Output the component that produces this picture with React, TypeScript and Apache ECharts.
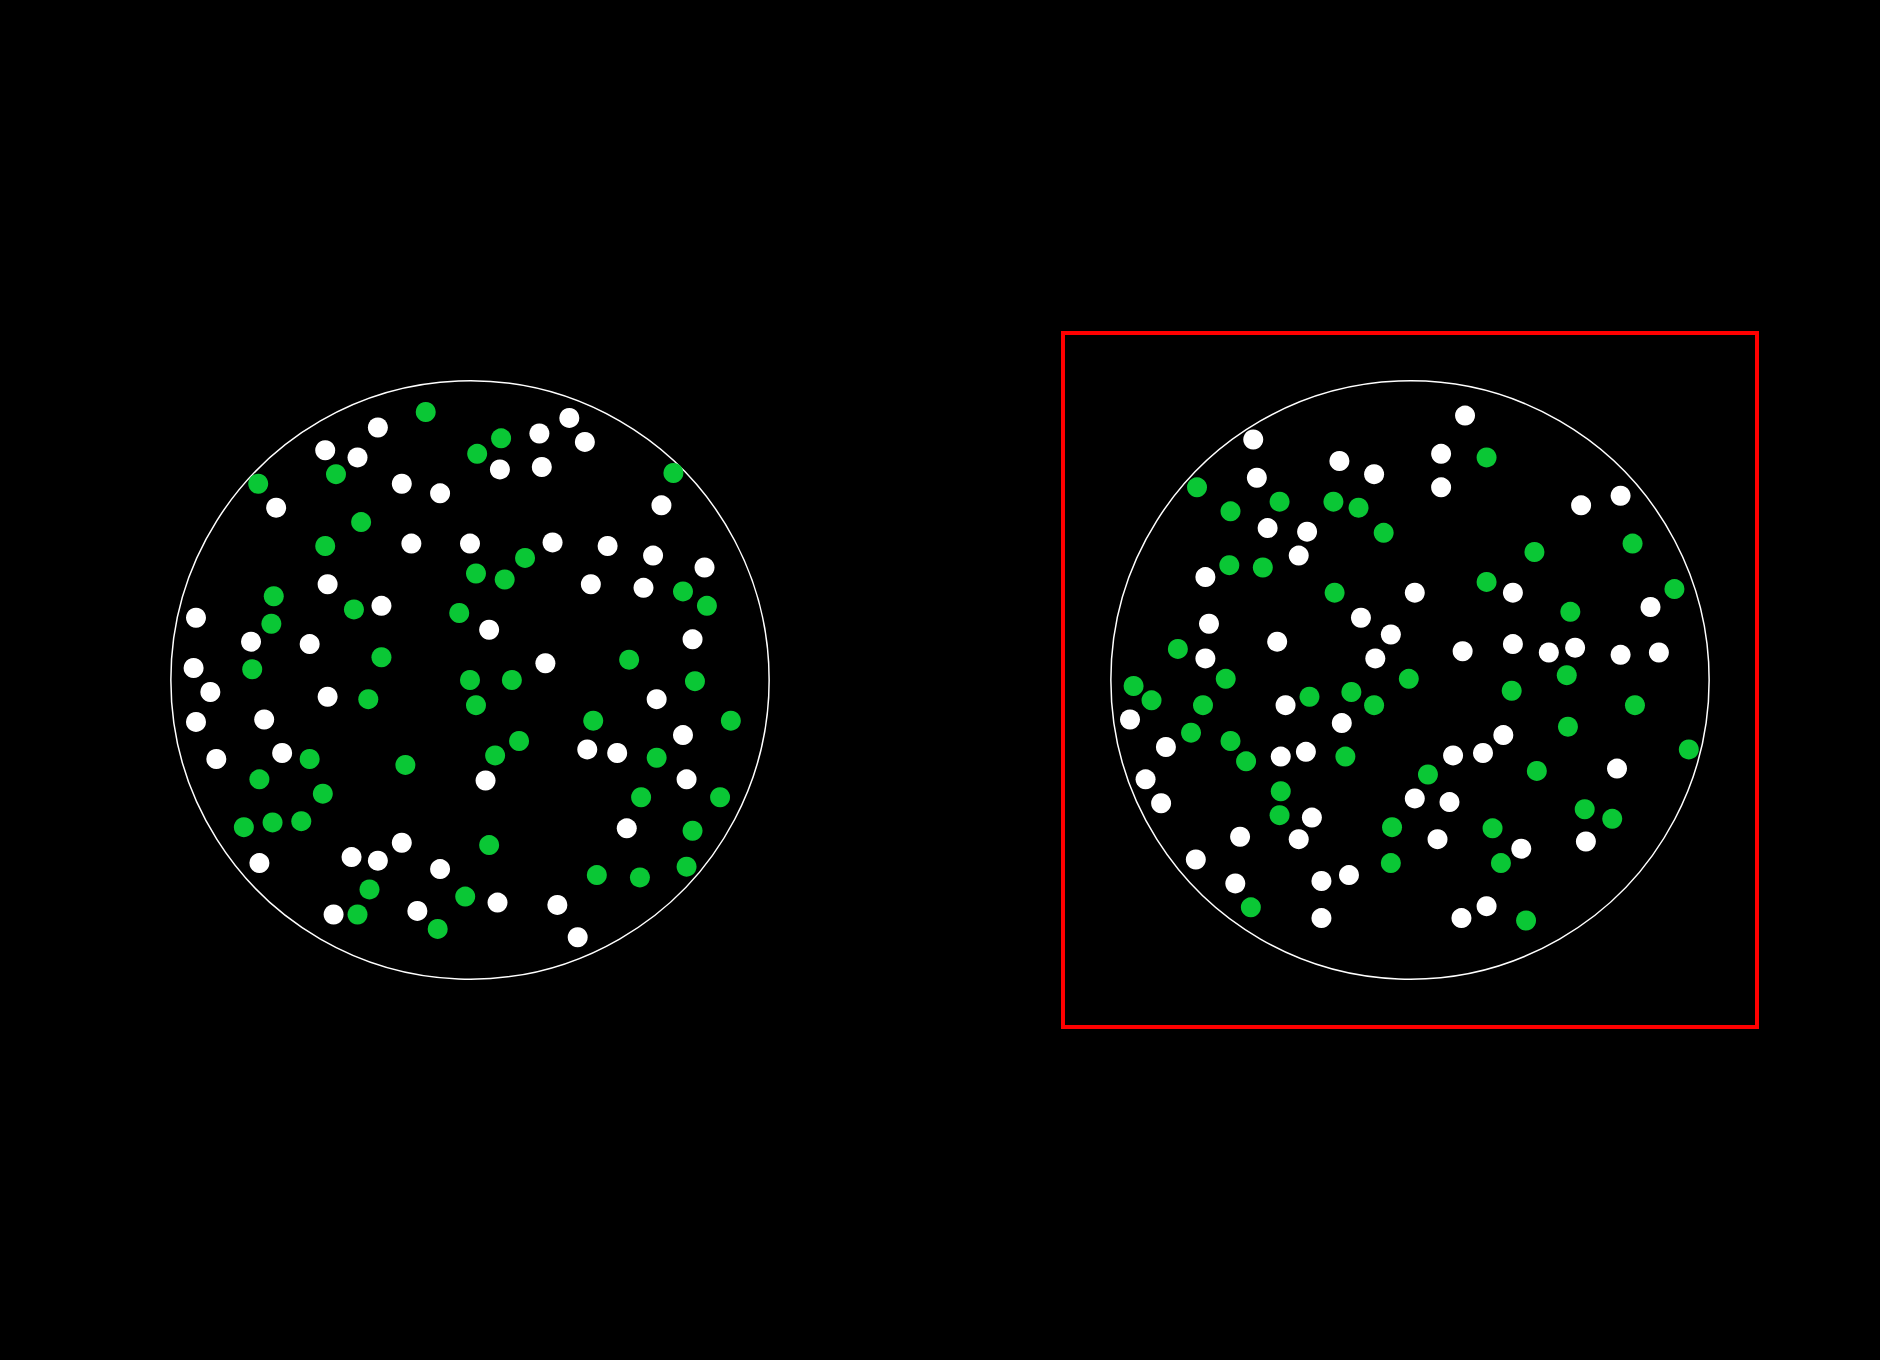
import React, { useEffect, useRef } from 'react';
import * as echarts from 'echarts';

// circle of radius 1 centred on 0,0 in each panel; points are [x, y]
const CIRCLE_RADIUS = 1;
const AXIS_LIMIT = 1.16;

const leftWhite: number[][] = [
  [-0.308, 0.844], [-0.484, 0.768], [-0.376, 0.744], [-0.648, 0.576], [-0.228, 0.656],
  [-0.1, 0.624], [-0.196, 0.456], [0.1, 0.704], [0.232, 0.824], [0.24, 0.712],
  [0.332, 0.876], [0.384, 0.796], [0.64, 0.584], [0.0, 0.456], [0.276, 0.46],
  [0.46, 0.448], [0.612, 0.416], [0.784, 0.376], [0.404, 0.32], [0.58, 0.308],
  [-0.476, 0.32], [-0.296, 0.248], [0.064, 0.168], [-0.916, 0.208], [-0.732, 0.128],
  [-0.536, 0.12], [0.744, 0.136], [0.252, 0.056], [-0.924, 0.04], [-0.868, -0.04],
  [-0.476, -0.056], [0.624, -0.064], [-0.916, -0.14], [-0.688, -0.132], [0.712, -0.184],
  [-0.628, -0.244], [-0.848, -0.264], [0.392, -0.232], [0.492, -0.244], [0.052, -0.336],
  [0.724, -0.332], [0.524, -0.496], [-0.228, -0.544], [-0.396, -0.592], [-0.308, -0.604],
  [-0.704, -0.612], [-0.1, -0.632], [0.092, -0.744], [0.292, -0.752], [-0.456, -0.784],
  [-0.176, -0.772], [0.36, -0.86],
];

const leftGreen: number[][] = [
  [-0.148, 0.896], [-0.448, 0.688], [-0.708, 0.656], [-0.364, 0.528], [-0.484, 0.448],
  [0.024, 0.756], [0.104, 0.808], [0.68, 0.692], [0.184, 0.408], [0.02, 0.356],
  [0.116, 0.336], [0.712, 0.296], [0.792, 0.248], [-0.656, 0.28], [-0.664, 0.188],
  [-0.388, 0.236], [-0.036, 0.224], [-0.296, 0.076], [0.532, 0.068], [-0.728, 0.036],
  [0.0, 0.0], [0.14, 0.0], [0.752, -0.004], [-0.34, -0.064], [0.02, -0.084],
  [0.412, -0.136], [0.872, -0.136], [0.164, -0.204], [-0.536, -0.264], [0.084, -0.252],
  [0.624, -0.26], [-0.216, -0.284], [-0.704, -0.332], [-0.492, -0.38], [0.572, -0.392],
  [0.836, -0.392], [-0.756, -0.492], [-0.66, -0.476], [-0.564, -0.472], [0.744, -0.504],
  [0.064, -0.552], [0.724, -0.624], [0.424, -0.652], [0.568, -0.66], [-0.336, -0.7],
  [-0.016, -0.724], [-0.376, -0.784], [-0.108, -0.832],
];

const rightWhite: number[][] = [
  [0.184, 0.884], [-0.524, 0.804], [0.104, 0.756], [-0.236, 0.732], [-0.12, 0.688],
  [-0.512, 0.676], [0.104, 0.644], [0.572, 0.584], [0.704, 0.616], [-0.476, 0.508],
  [-0.344, 0.496], [-0.372, 0.416], [-0.684, 0.344], [0.016, 0.292], [0.344, 0.292],
  [0.804, 0.244], [-0.164, 0.208], [-0.672, 0.188], [-0.064, 0.152], [-0.444, 0.128],
  [0.176, 0.096], [0.344, 0.12], [0.464, 0.092], [0.552, 0.108], [0.704, 0.084],
  [0.832, 0.092], [-0.684, 0.072], [-0.116, 0.072], [-0.416, -0.084], [-0.936, -0.132],
  [-0.228, -0.144], [0.312, -0.184], [-0.816, -0.224], [-0.348, -0.24], [-0.432, -0.256],
  [0.144, -0.252], [0.244, -0.244], [0.692, -0.296], [-0.884, -0.332], [0.016, -0.396],
  [0.132, -0.408], [-0.832, -0.412], [-0.328, -0.46], [-0.568, -0.524], [-0.372, -0.532],
  [0.092, -0.532], [0.588, -0.54], [0.372, -0.564], [-0.716, -0.6], [-0.584, -0.68],
  [-0.296, -0.672], [-0.204, -0.652], [0.256, -0.756], [-0.296, -0.796], [0.172, -0.796],
];

const rightGreen: number[][] = [
  [0.256, 0.744], [-0.712, 0.644], [-0.436, 0.596], [-0.256, 0.596], [-0.172, 0.576],
  [-0.6, 0.564], [-0.088, 0.492], [0.744, 0.456], [0.416, 0.428], [-0.604, 0.384],
  [-0.492, 0.376], [0.256, 0.328], [-0.252, 0.292], [0.884, 0.304], [0.536, 0.228],
  [-0.776, 0.104], [-0.616, 0.004], [-0.004, 0.004], [0.524, 0.016], [-0.924, -0.02],
  [-0.196, -0.04], [0.34, -0.036], [-0.864, -0.068], [-0.336, -0.056], [-0.692, -0.084],
  [-0.12, -0.084], [0.752, -0.084], [-0.732, -0.176], [0.528, -0.156], [-0.6, -0.204],
  [0.932, -0.232], [-0.216, -0.256], [-0.548, -0.272], [0.424, -0.304], [0.06, -0.316],
  [-0.432, -0.372], [-0.436, -0.452], [0.584, -0.432], [0.676, -0.464], [-0.06, -0.492],
  [0.276, -0.496], [-0.064, -0.612], [0.304, -0.612], [-0.532, -0.76], [0.388, -0.804],
];

const WHITE = '#ffffff';
const GREEN = '#0ac735';

const App: React.FC = () => {
  const chartRef = useRef<HTMLDivElement>(null);

  useEffect(() => {
    if (!chartRef.current) return;
    const chart = echarts.init(chartRef.current, undefined, { renderer: 'svg' });

    const axis = (gridIndex: number) => ({
      type: 'value',
      gridIndex,
      min: -AXIS_LIMIT,
      max: AXIS_LIMIT,
      show: false,
      splitLine: { show: false },
    });

    const circleSeries = (idx: number) => ({
      type: 'custom',
      xAxisIndex: idx,
      yAxisIndex: idx,
      z: 1,
      silent: true,
      data: [[0, 0, CIRCLE_RADIUS]],
      renderItem: (_params: any, api: any) => {
        const c = api.coord([api.value(0), api.value(1)]);
        const r = api.size([api.value(2), 0])[0];
        return {
          type: 'circle',
          shape: { cx: c[0], cy: c[1], r },
          style: { fill: 'none', stroke: '#ffffff', lineWidth: 1.5 },
        };
      },
    });

    const dots = (idx: number, data: number[][], color: string) => ({
      type: 'scatter',
      xAxisIndex: idx,
      yAxisIndex: idx,
      z: 3,
      symbolSize: 20,
      itemStyle: { color, opacity: 1 },
      data,
    });

    const option = {
      animation: false,
      backgroundColor: '#000000',
      grid: [
        { left: 123, top: 333, width: 694, height: 694, show: false },
        {
          left: 1063, top: 333, width: 694, height: 694,
          show: true, backgroundColor: 'transparent', borderColor: '#ff0000', borderWidth: 4,
        },
      ],
      xAxis: [axis(0), axis(1)],
      yAxis: [axis(0), axis(1)],
      series: [
        circleSeries(0),
        circleSeries(1),
        dots(0, leftWhite, WHITE),
        dots(0, leftGreen, GREEN),
        dots(1, rightWhite, WHITE),
        dots(1, rightGreen, GREEN),
      ],
    };

    chart.setOption(option);

    return () => {
      chart.dispose();
    };
  }, []);

  return (
    <div
      ref={chartRef}
      style={{ position: 'fixed', left: 0, top: 0, width: '1880px', height: '1360px', background: '#000' }}
    />
  );
};

export default App;
